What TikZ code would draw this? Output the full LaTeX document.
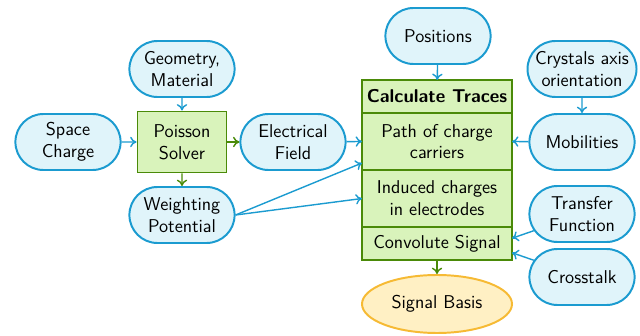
\documentclass[tikz,border=0pt]{standalone}
\usetikzlibrary{positioning,arrows.meta,shapes.misc,shapes.geometric}
\definecolor{FlowBlue}{RGB}{27,155,208}
\definecolor{FlowLightBlue}{RGB}{224,244,250}
\definecolor{FlowGreen}{RGB}{74,138,8}
\definecolor{FlowLightGreen}{RGB}{217,243,187}
\definecolor{FlowOrange}{RGB}{246,186,52}
\definecolor{FlowLightOrange}{RGB}{255,240,196}

\begin{document}
\begin{tikzpicture}[
font=\sffamily\fontsize{13.2}{15.5}\selectfont,
input/.style={rounded rectangle,draw=FlowBlue,fill=FlowLightBlue,line width=1.4pt,
minimum width=2.7cm,minimum height=1.4cm,align=center,inner sep=1pt},
solver/.style={rectangle,draw=FlowGreen,fill=FlowLightGreen,line width=1.4pt,
minimum width=2.225cm,minimum height=1.525cm,align=center},
stage/.style={rectangle,draw=FlowGreen,fill=FlowLightGreen,line width=1.4pt,
minimum width=3.75cm,align=center,inner sep=1pt,outer sep=0pt},
output/.style={ellipse,draw=FlowOrange,fill=FlowLightOrange,line width=1.4pt,
minimum width=3.75cm,minimum height=1.45cm,align=center},
barrow/.style={-{To[length=1.6mm,width=2.6mm]},line width=1pt,draw=FlowBlue},
garrow/.style={-{To[length=1.6mm,width=2.6mm]},line width=1pt,draw=FlowGreen}
]
\useasboundingbox (0,0) rectangle (16,8.375);
% field calculation
\node[solver] (poisson) at (4.55,4.825) {Poisson\\Solver};
\node[input] (geo) at (4.55,6.65) {Geometry,\\Material};
\node[input] (space) at (1.7,4.825) {Space\\Charge};
\node[input] (efield) at (7.325,4.825) {Electrical\\Field};
\node[input] (wpot) at (4.55,3.0) {Weighting\\Potential};
% trace calculation
\node[stage,minimum height=0.825cm] (head) at (10.925,5.9625) {\bfseries Calculate Traces};
\node[stage,minimum height=1.425cm,below=0pt of head] (path) {Path of charge\\carriers};
\node[stage,minimum height=1.425cm,below=0pt of path] (induced) {Induced charges\\in electrodes};
\node[stage,minimum height=0.825cm,below=0pt of induced] (conv) {Convolute Signal};
\node[output] (signal) at (10.925,0.775) {Signal Basis};
\node[input] (positions) at (10.95,7.475) {Positions};
\node[input] (crystal) at (14.55,6.65) {Crystals axis\\orientation};
\node[input] (mob) at (14.55,4.825) {Mobilities};
\node[input] (transfer) at (14.55,3.025) {Transfer\\Function};
\node[input] (crosstalk) at (14.55,1.45) {Crosstalk};
% connections
\draw[barrow] (geo)--(poisson); \draw[barrow] (space)--(poisson);
\draw[garrow] (poisson)--(efield); \draw[garrow] (poisson)--(wpot);
\draw[barrow] (efield)--(path.west);
\draw[barrow] (wpot.east)--(path.196); \draw[barrow] (wpot.east)--(induced.west);
\draw[barrow] (positions)--(head); \draw[barrow] (crystal)--(mob);
\draw[barrow] (mob)--(path.east);
\draw[barrow] (transfer)--(conv.4); \draw[barrow] (crosstalk)--(conv.-7);
\draw[garrow] (conv)--(signal);
\end{tikzpicture}
\end{document}
